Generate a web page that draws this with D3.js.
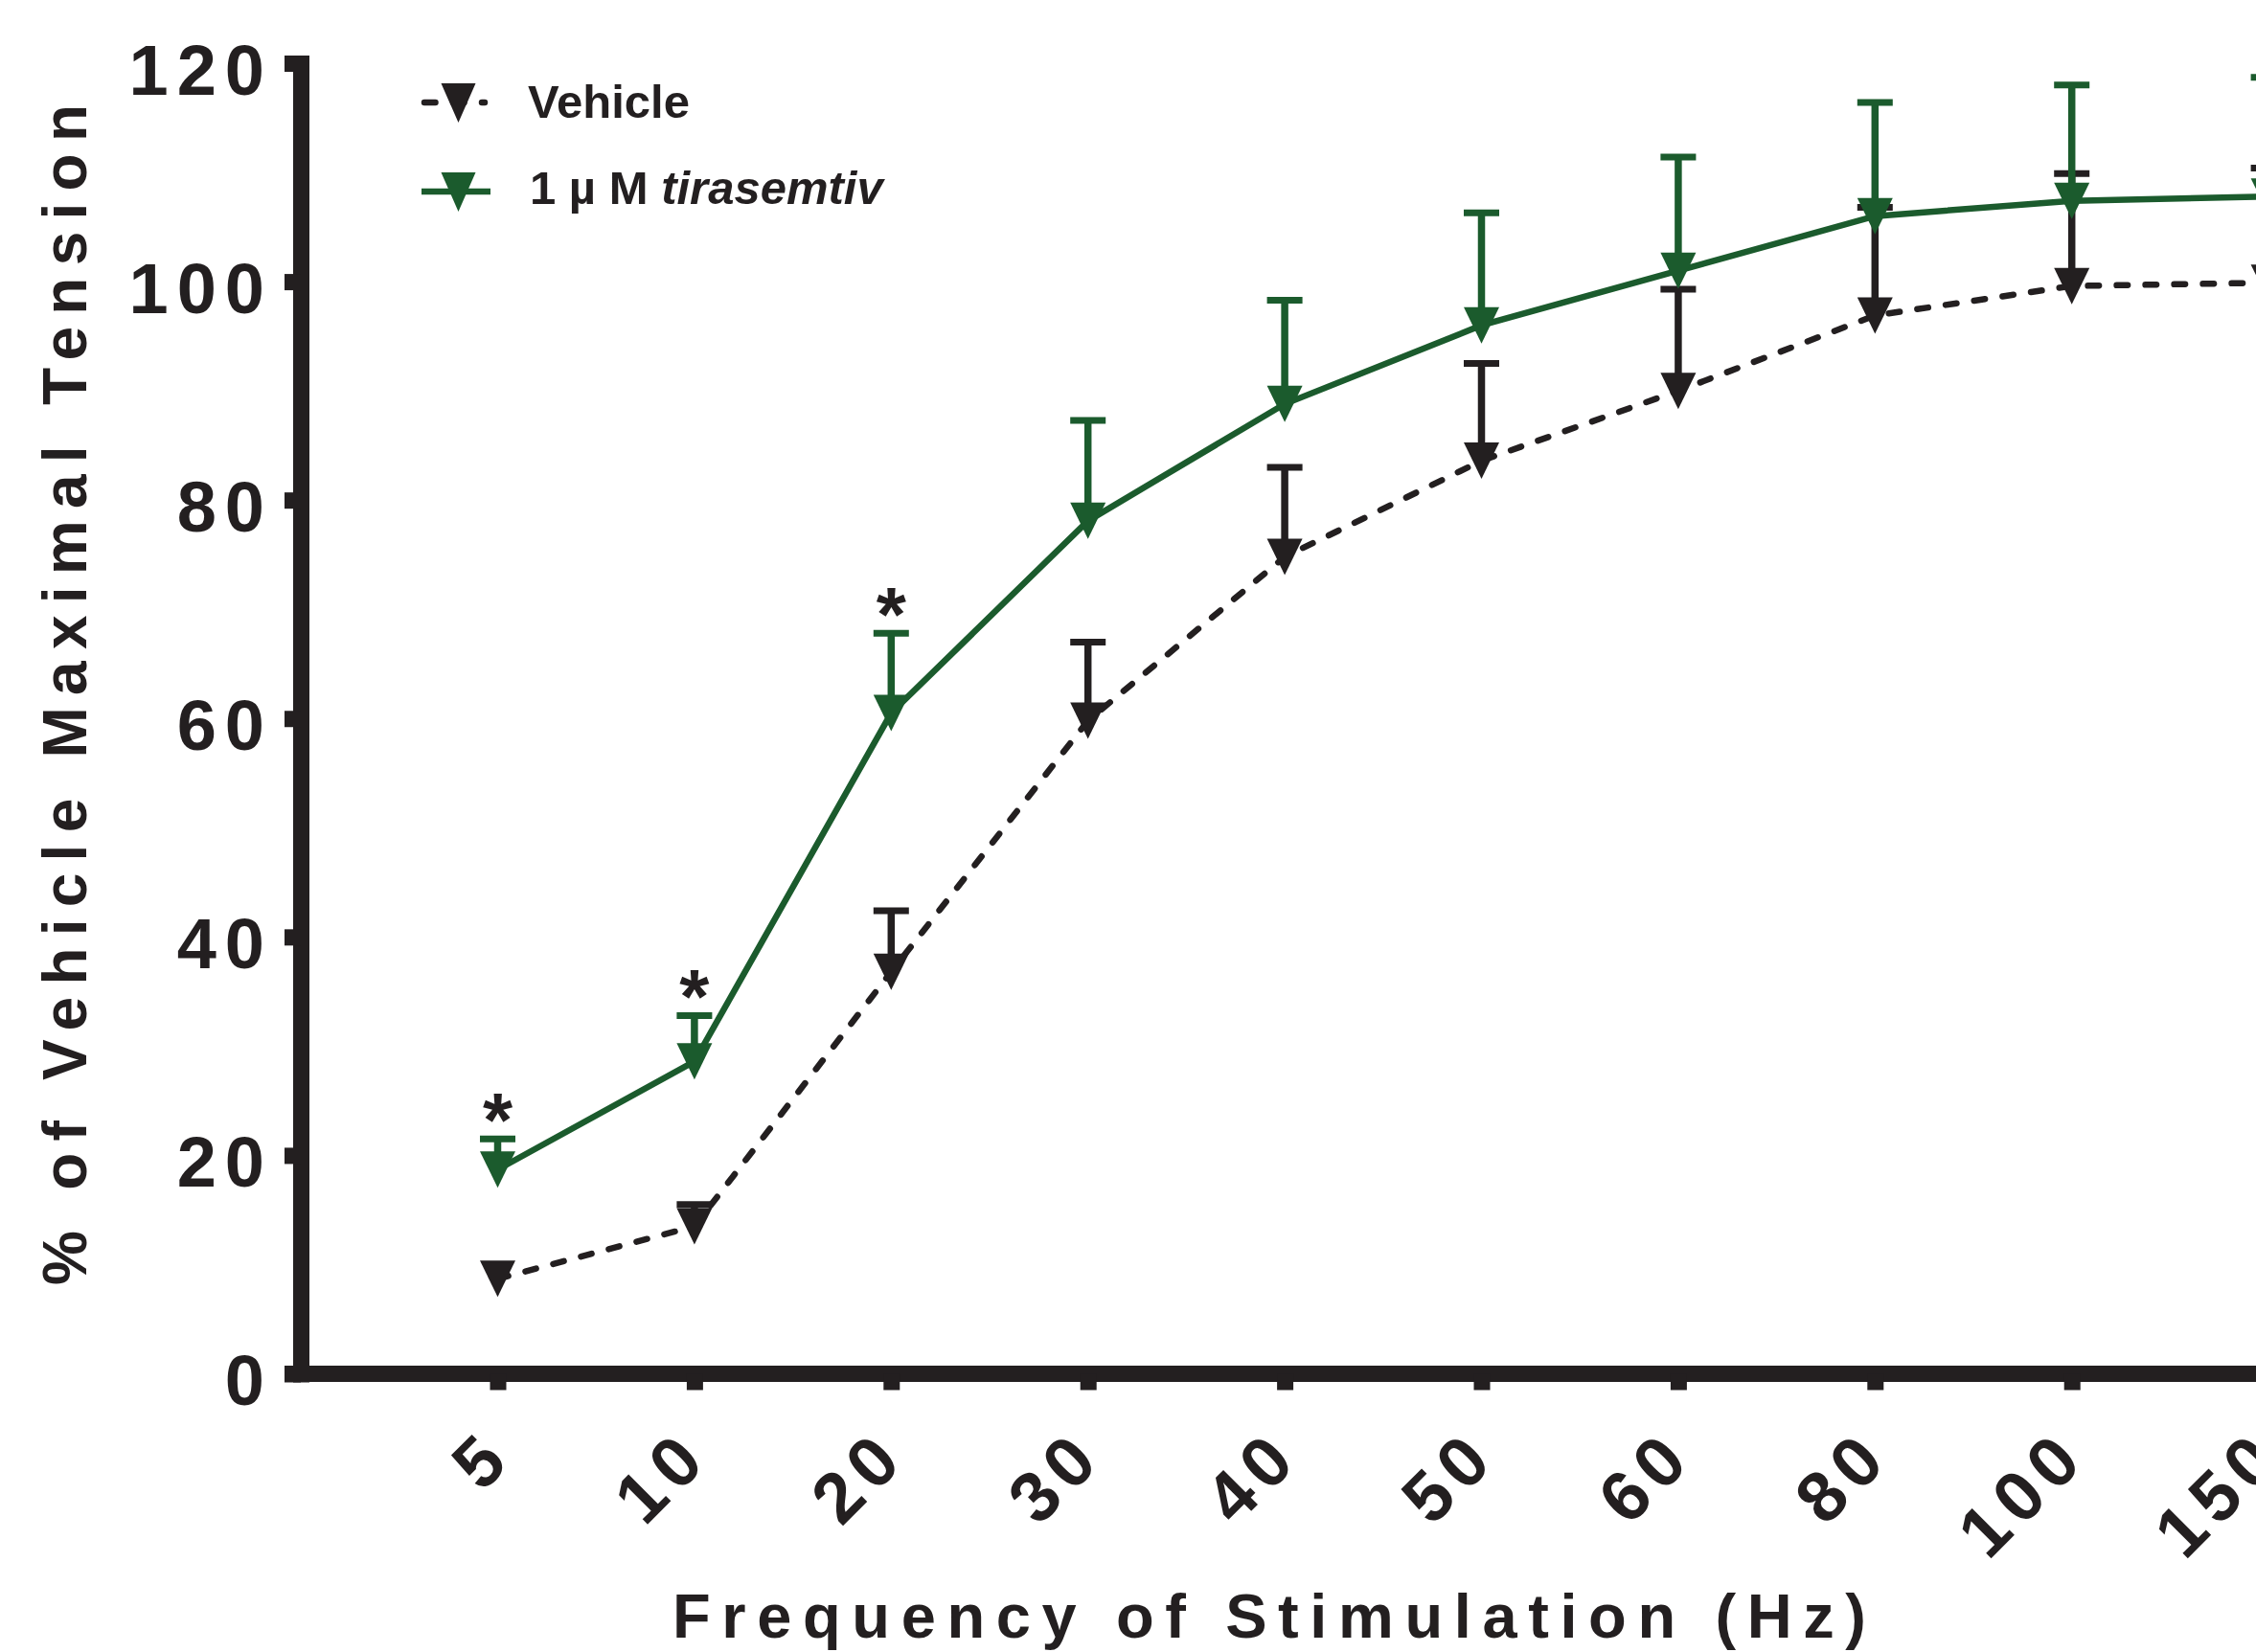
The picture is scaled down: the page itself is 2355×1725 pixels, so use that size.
<!DOCTYPE html>
<html>
<head>
<meta charset="utf-8">
<script src="https://cdn.jsdelivr.net/npm/d3@7"></script>
<style>
  html, body { margin: 0; padding: 0; background: #fff; }
  svg { display: block; }
  text { font-family: "Liberation Sans", Arial, Helvetica, sans-serif; font-weight: bold; fill: #231f20; }
</style>
</head>
<body>
<div id="chart"></div>
<script>
// stimulation frequencies (Hz), categorical x axis
const freqs = ["5", "10", "20", "30", "40", "50", "60", "80", "100", "150"];

// % of vehicle maximal tension: mean and SEM per frequency
const vehicleMean = [8.7, 13.5, 36.8, 59.8, 74.8, 83.6, 90.0, 96.9, 99.6, 99.9];
const vehicleSem = [0.8, 2.0, 5.6, 7.2, 8.2, 8.9, 9.3, 9.9, 10.3, 10.5];
const tiraMean = [18.7, 28.6, 60.5, 78.1, 88.8, 96.0, 101.0, 106.0, 107.4, 107.8];
const tiraSem = [2.8, 4.2, 7.3, 9.2, 9.5, 10.3, 10.4, 10.4, 10.6, 10.9];
// significance marks (*) above the tirasemtiv points
const tiraSig = [true, true, true, false, false, false, false, false, false, false];

const yTicks = [0, 20, 40, 60, 80, 100, 120];

const ink = "#231f20";
const green = "#1b5b2d";

const width = 2355, height = 1725;
const axisX = 314, axisY = 1434.5;
const stroke = 17;
const markerW = 37, markerH = 38;

const svg = d3.select("#chart").append("svg")
    .attr("width", width)
    .attr("height", height);

// scales
const x = d3.scalePoint().domain(freqs).range([519.5, 519.5 + 205.4 * (freqs.length - 1)]);
const y = d3.scaleLinear().domain([0, 120]).range([axisY, 66]);

// y axis
const yAxis = svg.append("g")
    .attr("transform", `translate(${axisX},0)`)
    .call(d3.axisLeft(y).tickValues(yTicks).tickSize(stroke).tickSizeOuter(0).tickPadding(0));
yAxis.select(".domain")
    .attr("stroke", ink)
    .attr("stroke-width", stroke)
    .attr("stroke-linecap", "square");
yAxis.selectAll(".tick line").attr("stroke", ink).attr("stroke-width", stroke);
yAxis.selectAll(".tick text")
    .attr("x", -29)
    .attr("dy", null)
    .attr("y", 32)
    .attr("font-size", 74)
    .attr("letter-spacing", 9)
    .attr("fill", ink);

// x axis (line drawn separately so it runs to the y axis and off the right edge)
svg.append("line")
    .attr("x1", axisX - stroke)
    .attr("x2", x.range()[1] + 40)
    .attr("y1", axisY)
    .attr("y2", axisY)
    .attr("stroke", ink)
    .attr("stroke-width", stroke);

const xAxis = svg.append("g")
    .attr("transform", `translate(0,${axisY})`)
    .call(d3.axisBottom(x).tickSize(stroke).tickSizeOuter(0));
xAxis.select(".domain").remove();
xAxis.selectAll(".tick line").attr("stroke", ink).attr("stroke-width", stroke);
xAxis.selectAll(".tick text")
    .attr("x", 0)
    .attr("y", 0)
    .attr("dy", null)
    .attr("dx", 9)
    .attr("text-anchor", "end")
    .attr("transform", "translate(12,96) rotate(-45)")
    .attr("font-size", 74)
    .attr("letter-spacing", 9)
    .attr("fill", ink);

// axis titles
svg.append("text")
    .attr("transform", "translate(90,1342) rotate(-90)")
    .attr("font-size", 64)
    .attr("textLength", 1233)
    .attr("lengthAdjust", "spacing")
    .text("% of Vehicle Maximal Tension");

svg.append("text")
    .attr("x", 702)
    .attr("y", 1710)
    .attr("font-size", 65)
    .attr("textLength", 1246)
    .attr("lengthAdjust", "spacing")
    .text("Frequency of Stimulation (Hz)");

// downward triangle centred on a point
const tri = (cx, cy, w, h) =>
    `M${cx - w / 2},${cy - h / 2}L${cx + w / 2},${cy - h / 2}L${cx},${cy + h / 2}Z`;

const series = [
    { name: "Vehicle", mean: vehicleMean, sem: vehicleSem, color: ink, dash: "11.5,18.5" },
    { name: "tirasemtiv", mean: tiraMean, sem: tiraSem, color: green, dash: null }
];

const line = d3.line()
    .x((d, i) => x(freqs[i]))
    .y((d) => y(d));

series.forEach((s) => {
    const g = svg.append("g");
    const pts = s.mean.map((m, i) => ({ f: freqs[i], m: m, top: m + s.sem[i] }));
    // like Prism, bars shorter than the symbol are hidden behind it
    const bars = pts.filter((d) => y(d.m) - y(d.top) > markerH / 2);

    g.append("path")
        .attr("d", line(s.mean))
        .attr("fill", "none")
        .attr("stroke", s.color)
        .attr("stroke-width", 6.5)
        .attr("stroke-linecap", "round")
        .attr("stroke-dasharray", s.dash);

    // error bars (upper only)
    g.selectAll(".stem").data(bars).join("line")
        .attr("x1", (d) => x(d.f))
        .attr("x2", (d) => x(d.f))
        .attr("y1", (d) => y(d.m))
        .attr("y2", (d) => y(d.top))
        .attr("stroke", s.color)
        .attr("stroke-width", 7.5);
    g.selectAll(".cap").data(bars).join("line")
        .attr("x1", (d) => x(d.f) - markerW / 2)
        .attr("x2", (d) => x(d.f) + markerW / 2)
        .attr("y1", (d) => y(d.top))
        .attr("y2", (d) => y(d.top))
        .attr("stroke", s.color)
        .attr("stroke-width", 7);

    // markers
    g.selectAll(".marker").data(pts).join("path")
        .attr("d", (d) => tri(x(d.f), y(d.m), markerW, markerH))
        .attr("fill", s.color);
});

// significance asterisks
svg.append("g").selectAll("text")
    .data(freqs.map((f, i) => ({ f: f, top: tiraMean[i] + tiraSem[i], sig: tiraSig[i] })).filter((d) => d.sig))
    .join("text")
    .attr("x", (d) => x(d.f))
    .attr("y", (d) => y(d.top) + 8)
    .attr("text-anchor", "middle")
    .attr("font-size", 80)
    .text("*");

// legend
const legend = svg.append("g");
const legendItems = [
    { color: ink, dash: "11.5,18.5", cy: 107, x2: 506 },
    { color: green, dash: null, cy: 200, x2: 512 }
];
legendItems.forEach((d) => {
    legend.append("line")
        .attr("x1", d.dash ? 443 : 440)
        .attr("x2", d.x2)
        .attr("y1", d.cy)
        .attr("y2", d.cy)
        .attr("stroke", d.color)
        .attr("stroke-width", 6.5)
        .attr("stroke-linecap", d.dash ? "round" : "butt")
        .attr("stroke-dasharray", d.dash);
    legend.append("path")
        .attr("d", tri(478.5, d.cy + 0.5, 36, 41))
        .attr("fill", d.color);
});
legend.append("text")
    .attr("x", 551)
    .attr("y", 123)
    .attr("font-size", 49)
    .text("Vehicle");
const t2 = legend.append("text")
    .attr("x", 553)
    .attr("y", 213)
    .attr("font-size", 49);
t2.append("tspan").text("1 \u00b5 M ");
t2.append("tspan").attr("font-style", "italic").text("tirasemtiv");
</script>
</body>
</html>
